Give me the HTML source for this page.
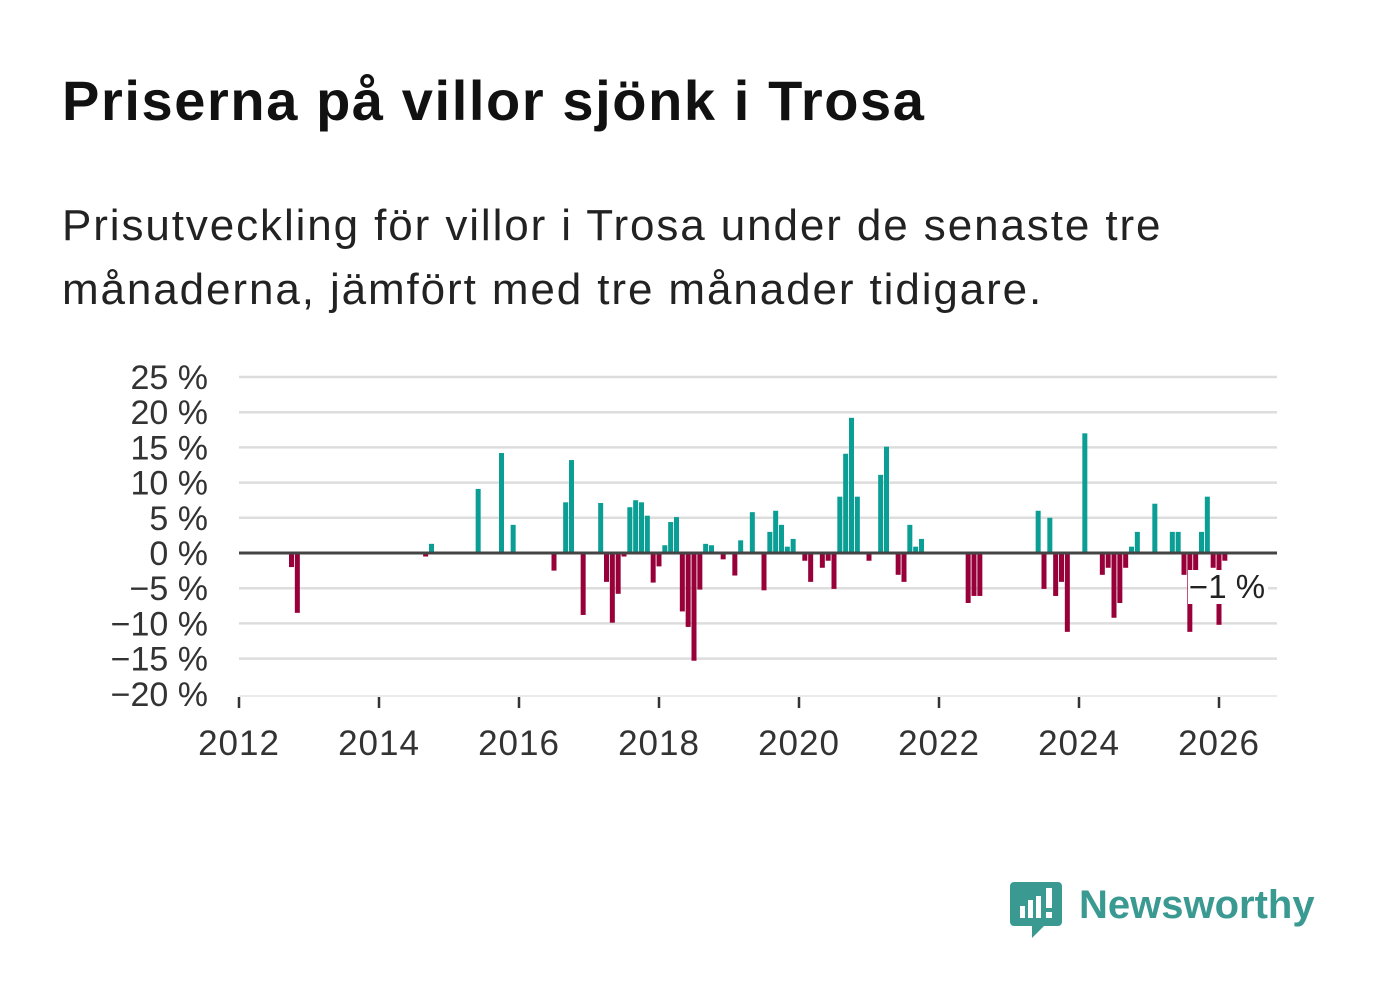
<!DOCTYPE html>
<html><head><meta charset="utf-8">
<style>
body{margin:0;background:#fff;width:1382px;height:999px;overflow:hidden;font-family:"Liberation Sans",sans-serif;}
.title{position:absolute;left:62px;top:68px;font-size:56px;font-weight:bold;color:#111;letter-spacing:1.6px;white-space:nowrap;}
.sub{position:absolute;left:62px;top:194px;font-size:44px;line-height:64px;color:#222;letter-spacing:1.9px;white-space:nowrap;}
</style></head><body>
<div class="title">Priserna på villor sjönk i Trosa</div>
<div class="sub">Prisutveckling för villor i Trosa under de senaste tre<br>månaderna, jämfört med tre månader tidigare.</div>
<svg id="chart" width="1382" height="999" style="position:absolute;left:0;top:0">
<g id="grid"></g><g id="bars"></g><g id="axes"></g>
<g>
<rect x="1188" y="570" width="80" height="34" fill="#fff"/>
<text x="1227" y="598" font-size="33" text-anchor="middle" fill="#222" font-family="Liberation Sans, sans-serif">−1 %</text>
</g>
<g>
<path d="M1014 882 h44 a4 4 0 0 1 4 4 v36 a4 4 0 0 1 -4 4 h-14 l-12 12 v-12 h-18 a4 4 0 0 1 -4 -4 v-36 a4 4 0 0 1 4 -4z" fill="#3a9a92"/>
<rect x="1020" y="906" width="5" height="12" fill="#fff"/><rect x="1028" y="900" width="5" height="18" fill="#fff"/><rect x="1036" y="896" width="5" height="22" fill="#fff"/><rect x="1046" y="888" width="6" height="20" fill="#fff"/><rect x="1046" y="912" width="6" height="6" fill="#fff"/>
<text x="1079" y="918" font-size="40" font-weight="bold" fill="#3a9a92" font-family="Liberation Sans, sans-serif">Newsworthy</text>
</g>
</svg>
<script>
const months=[9,10,32,33,41,45,47,54,56,57,59,62,63,64,65,66,67,68,69,70,71,72,73,74,75,76,77,78,79,80,81,83,85,86,88,90,91,92,93,94,95,97,98,100,101,102,103,104,105,106,108,110,111,113,114,115,116,117,125,126,127,137,138,139,140,141,142,145,148,149,150,151,152,153,154,157,160,161,162,163,164,165,166,167,168,169];
const values=[-2,-8.5,-0.5,1.3,9.1,14.2,4.0,-2.5,7.2,13.2,-8.8,7.1,-4.1,-9.9,-5.8,-0.5,6.5,7.5,7.2,5.3,-4.2,-1.9,1.1,4.4,5.1,-8.3,-10.5,-15.3,-5.2,1.3,1.1,-0.9,-3.2,1.8,5.8,-5.3,3.0,6.0,4.0,0.9,2.0,-1.1,-4.1,-2.1,-1.1,-5.1,8.0,14.1,19.2,8.0,-1.1,11.1,15.1,-3.1,-4.1,4.0,0.9,2.0,-7.1,-6.1,-6.1,6.0,-5.1,5.0,-6.1,-4.1,-11.2,17.0,-3.1,-2.1,-9.2,-7.1,-2.1,0.9,3.0,7.0,3.0,3.0,-3.1,-11.2,-3.7,3.0,8.0,-2.1,-10.2,-1.1];
const yTicks=[25,20,15,10,5,0,-5,-10,-15,-20];
const xYears=[2012,2014,2016,2018,2020,2022,2024,2026];
const ns="http://www.w3.org/2000/svg";
const X0=239,PXM=70/12,Y0=553,PXV=7.04,R=1277;
const xs=m=>X0+m*PXM, ys=v=>Y0-v*PXV;
function mk(t,a,p){const e=document.createElementNS(ns,t);for(const k in a)e.setAttribute(k,a[k]);p.appendChild(e);return e;}
const grid=document.getElementById('grid'),bars=document.getElementById('bars'),axes=document.getElementById('axes');
yTicks.forEach(v=>{
 if(v!==0&&v!==-20){const l=mk('line',{x1:X0,x2:R,y1:ys(v),y2:ys(v),stroke:'#dddddd','stroke-width':2.5},grid);
 
 }
 const t=mk('text',{x:208,y:ys(v)+12,'font-size':34,'text-anchor':'end',fill:'#333','font-family':'Liberation Sans, sans-serif'},axes);
 t.textContent=(v<0?'−'+(-v):v)+' %';
 
 
});
months.forEach((m,i)=>{const v=values[i];
 const r=mk('rect',{x:xs(m)-2.5,width:5,y:Math.min(ys(v),Y0),height:Math.abs(v)*PXV,fill:v>=0?'#0a9e94':'#970039'},bars);
 
 
});
const z=mk('line',{x1:X0,x2:R,y1:Y0,y2:Y0,stroke:'#444','stroke-width':3},axes);


const xa=mk('line',{x1:X0,x2:R,y1:696,y2:696,stroke:'#e4e4e4','stroke-width':1.5},axes);


xYears.forEach(yr=>{const x=xs((yr-2012)*12);
 const tk=mk('line',{x1:x,x2:x,y1:697,y2:708,stroke:'#333','stroke-width':2.5},axes);
 
 
 const t=mk('text',{x:x,y:755,'font-size':35,'letter-spacing':1,'text-anchor':'middle',fill:'#333','font-family':'Liberation Sans, sans-serif'},axes);
 t.textContent=yr;
 
 
});
</script>
</body></html>
